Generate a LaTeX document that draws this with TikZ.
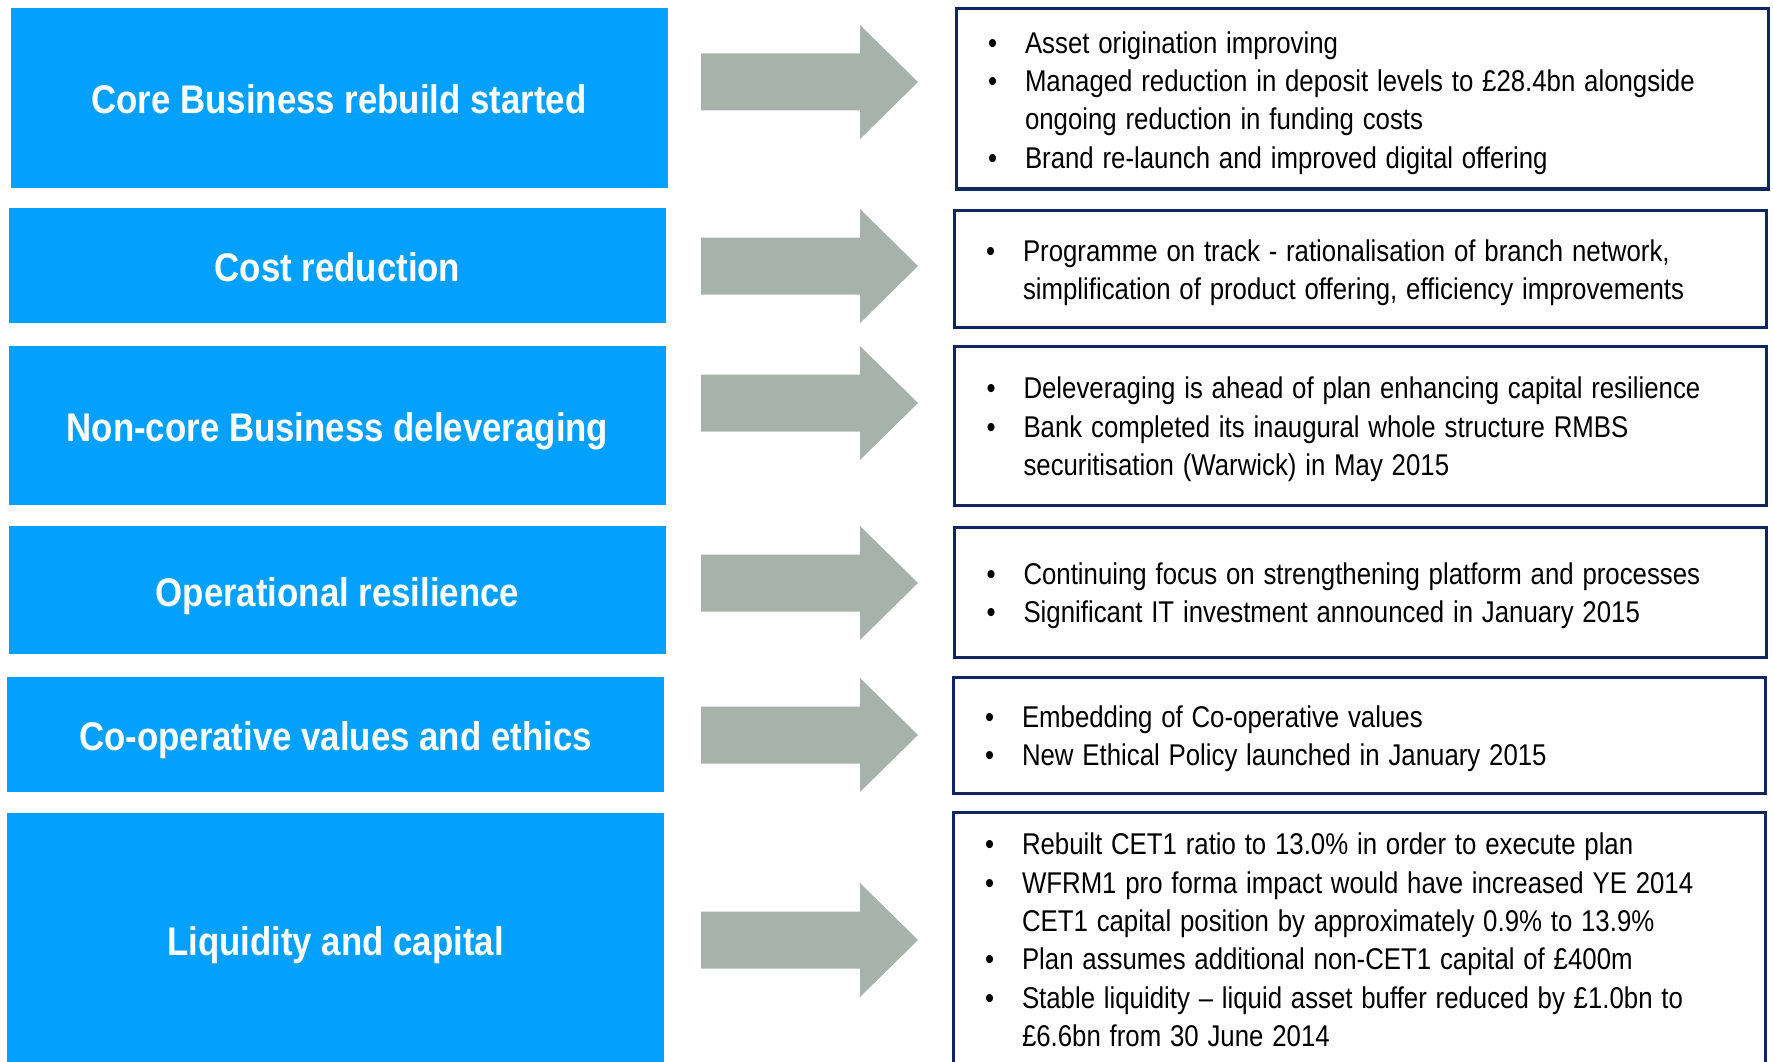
\documentclass[tikz,border=0pt]{standalone}
\usepackage{fontspec}
\setmainfont{Liberation Sans}[FakeStretch=0.86]
\newfontfamily\tilefont{Liberation Sans}[FakeStretch=0.87]
\definecolor{tileblue}{RGB}{3,160,254}
\definecolor{arrowgrey}{RGB}{167,179,170}
\definecolor{framenavy}{RGB}{14,38,98}
\begin{document}
\begin{tikzpicture}[x=1pt,y=-1pt,
	tile/.style={fill=tileblue,text=white,font=\tilefont\fontsize{40}{48}\selectfont\bfseries,inner sep=0pt,text height=32pt,text depth=0pt,minimum width=657pt},
	frame/.style={draw=framenavy,line width=3pt,minimum width=812pt},
	blurb/.style={inner sep=0pt,text width=748pt,align=left,font=\fontsize{30}{38.4}\selectfont}]
		\useasboundingbox (0,0) rectangle (1773,1062);
		\def\itm#1{\spaceskip=8.8pt plus 1pt\relax\hangindent=37pt\relax\hangafter=1\relax\noindent\makebox[37pt][l]{\textbullet}#1\par}
		% left tiles
		\node[tile,minimum height=180pt] (core) at (339,98) {Core Business rebuild started};
		\node[tile,minimum height=115pt] (cost) at (337.5,265.5) {Cost reduction};
		\node[tile,minimum height=159pt] (noncore) at (337.5,425.5) {Non-core Business deleveraging};
		\node[tile,minimum height=128pt] (oper) at (337.5,590) {Operational resilience};
		\node[tile,minimum height=115pt] (values) at (335.5,734.5) {Co-operative values and ethics};
		\node[tile,minimum height=252pt] (liq) at (335.5,939) {Liquidity and capital};
		% arrows
		\foreach \y in {82,266,403,583,735,940}
		\fill[arrowgrey] (701,\y-28.5)--(860,\y-28.5)--(860,\y-57)--(918,\y)--(860,\y+57)--(860,\y+28.5)--(701,\y+28.5)--cycle;
		% right panels
		\node[frame,minimum height=180pt] (p1) at (1362,99) {};
		\node[frame,minimum height=117pt] (p2) at (1360,268.5) {};
		\node[frame,minimum height=159pt] (p3) at (1360.5,425.5) {};
		\node[frame,minimum height=130pt] (p4) at (1360.5,592) {};
		\node[frame,minimum height=116pt] (p5) at (1359,735) {};
		\node[frame,minimum height=256pt] (p6) at (1359,940) {};
		\node[blurb] (t1) at ([yshift=-4pt]p1.center) {\itm{Asset origination improving}\itm{Managed reduction in deposit levels to £28.4bn alongside\newline ongoing reduction in funding costs}\itm{Brand re-launch and improved digital offering}};
		\node[blurb] (t2) at ([yshift=-4pt]p2.center) {\itm{Programme on track - rationalisation of branch network,\newline simplification of product offering, efficiency improvements}};
		\node[blurb] (t3) at ([yshift=-4pt]p3.center) {\itm{Deleveraging is ahead of plan enhancing capital resilience}\itm{Bank completed its inaugural whole structure RMBS\newline securitisation (Warwick) in May 2015}};
		\node[blurb] (t4) at ([yshift=-4pt]p4.center) {\itm{Continuing focus on strengthening platform and processes}\itm{Significant IT investment announced in January 2015}};
		\node[blurb] (t5) at ([yshift=-4pt]p5.center) {\itm{Embedding of Co-operative values}\itm{New Ethical Policy launched in January 2015}};
		\node[blurb] (t6) at (p6.center) {\itm{Rebuilt CET1 ratio to 13.0\% in order to execute plan}\itm{WFRM1 pro forma impact would have increased YE 2014\newline CET1 capital position by approximately 0.9\% to 13.9\%}\itm{Plan assumes additional non-CET1 capital of £400m}\itm{Stable liquidity – liquid asset buffer reduced by £1.0bn to\newline £6.6bn from 30 June 2014}};
		\end{tikzpicture}
\end{document}
